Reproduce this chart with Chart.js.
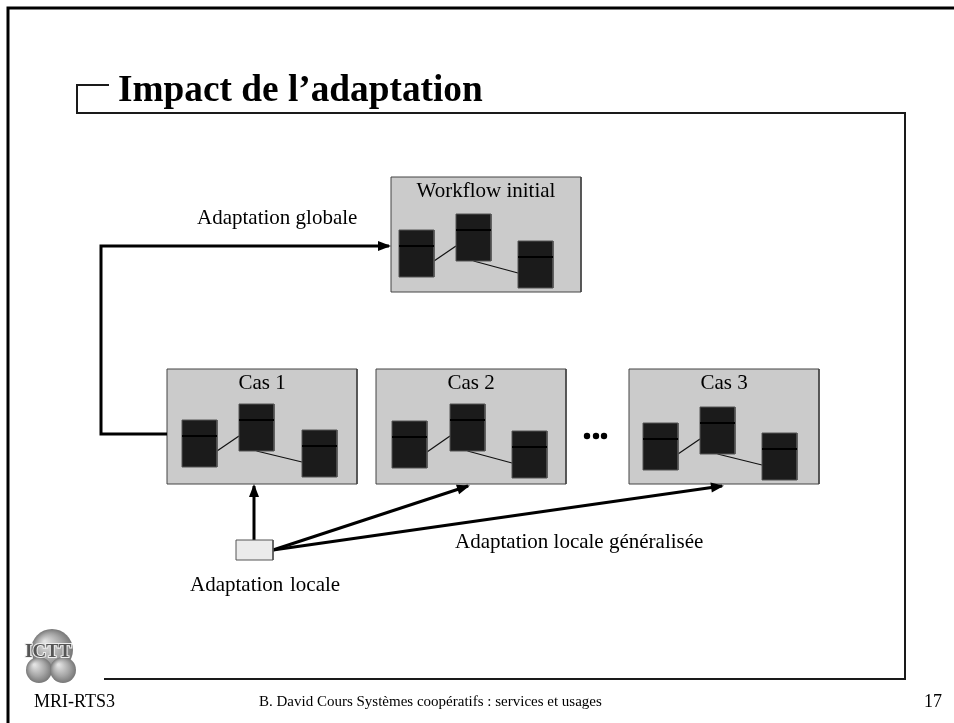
<!DOCTYPE html>
<html lang="fr">
<head>
<meta charset="UTF-8">
<title>Impact de l'adaptation</title>
<style>
  body { margin: 0; background: #fff; }
  canvas { display: block; }
</style>
<script src="https://cdn.jsdelivr.net/npm/chart.js"></script>
</head>
<body>
<canvas id="chart" width="954" height="723"></canvas>
<script>
// --- diagram data (page units, y grows downward) ---
const boxNames = ['Workflow initial', 'Cas 1', 'Cas 2', 'Cas 3'];
const boxLeft = [391, 167, 376, 629];
const boxTop = [177, 369, 369, 369];
const boxW = 190, boxH = 115;

// three tasks in each box, offsets from the box corner
const taskDX = [[8, 65, 127], [15, 72, 135], [16, 74, 136], [14, 71, 133]];
const taskDY = [[53, 37, 64], [51, 35, 61], [52, 35, 62], [54, 38, 64]];
const taskW = 35, taskH = 47;

// arrows
const globalPath = [[167, 434], [101, 434], [101, 246], [389, 246]];
const localBox = [236, 540, 37, 20];
const localArrows = [
  [[254, 540], [254, 486]],
  [[273, 550], [468, 486]],
  [[273, 550], [722, 486]]
];
const ellipsisX = [587, 596, 604];
const ellipsisY = 436;

// slide frame
const outerFrame = [[8, 723], [8, 8], [954, 8]];
const innerFrame = [[109, 85], [77, 85], [77, 113], [905, 113], [905, 679], [104, 679]];

const title = 'Impact de l\u2019adaptation';
const footer = ['MRI-RTS3', 'B. David Cours Syst\u00e8mes coop\u00e9ratifs : services et usages', '17'];
const notes = [
  { text: 'Adaptation globale', x: 197, y: 224 },
  { text: 'Adaptation locale g\u00e9n\u00e9ralis\u00e9e', x: 455, y: 548 },
  { text: 'Adaptation', x: 190, y: 591 },
  { text: 'locale', x: 290, y: 591 }
];

const pts = arr => arr.map(p => ({ x: p[0], y: p[1] }));
const rect = (l, t, w, h) => pts([[l, t], [l + w, t], [l + w, t + h], [l, t + h], [l, t]]);

let datasets = [];
function add(d) {
  datasets.push(Object.assign({ pointRadius: 0, showLine: true, fill: false, clip: false, borderWidth: 1 }, d));
}

add({ data: pts(outerFrame), borderColor: '#000', borderWidth: 3 });
add({ data: pts(innerFrame), borderColor: '#1a1a1a', borderWidth: 2 });

boxNames.forEach((name, b) => {
  add({ data: rect(boxLeft[b], boxTop[b], boxW, boxH), borderColor: '#444', backgroundColor: '#cbcbcb', fill: 'shape' });
  const tx = taskDX[b].map(d => boxLeft[b] + d);
  const ty = taskDY[b].map(d => boxTop[b] + d);
  // connectors between tasks
  add({ data: pts([[tx[0] + taskW, ty[0] + 31], [tx[1], ty[1] + 32]]), borderColor: '#111', borderWidth: 1.2 });
  add({ data: pts([[tx[1] + taskW / 2, ty[1] + taskH], [tx[2], ty[2] + 32]]), borderColor: '#111', borderWidth: 1.2 });
  for (let i = 0; i < 3; i++) {
    add({ data: rect(tx[i], ty[i], taskW, taskH), borderColor: '#555', backgroundColor: '#1b1b1b', fill: 'shape' });
    add({ data: pts([[tx[i], ty[i] + 16], [tx[i] + taskW, ty[i] + 16]]), borderColor: '#000', borderWidth: 2 });
  }
});

add({ data: pts(globalPath), borderColor: '#000', borderWidth: 3, arrow: true });
localArrows.forEach(a => add({ data: pts(a), borderColor: '#000', borderWidth: 3, arrow: true }));
add({ data: rect(localBox[0], localBox[1], localBox[2], localBox[3]), borderColor: '#555', backgroundColor: '#ebebeb', fill: 'shape' });
add({ data: ellipsisX.map(x => ({ x: x, y: ellipsisY })), showLine: false, pointRadius: 3.2, pointBackgroundColor: '#000', pointBorderWidth: 0 });

// first pushed is painted first
datasets.forEach((d, i) => { d.order = datasets.length - i; });

const arrowHeads = {
  id: 'arrowHeads',
  afterDatasetsDraw(chart) {
    const ctx = chart.ctx;
    chart.data.datasets.forEach((ds, i) => {
      if (!ds.arrow) return;
      const el = chart.getDatasetMeta(i).data;
      const a = el[el.length - 2], b = el[el.length - 1];
      const ang = Math.atan2(b.y - a.y, b.x - a.x);
      const len = 11, half = 5;
      ctx.save();
      ctx.translate(b.x, b.y);
      ctx.rotate(ang);
      ctx.beginPath();
      ctx.moveTo(2, 0);
      ctx.lineTo(-len, -half);
      ctx.lineTo(-len, half);
      ctx.closePath();
      ctx.fillStyle = '#000';
      ctx.fill();
      ctx.restore();
    });
  }
};

const slideText = {
  id: 'slideText',
  afterDatasetsDraw(chart) {
    const { ctx, scales: { x, y } } = chart;
    const px = v => x.getPixelForValue(v), py = v => y.getPixelForValue(v);
    ctx.save();
    ctx.fillStyle = '#000';
    ctx.textBaseline = 'alphabetic';

    ctx.font = 'bold 37.3px "Liberation Serif"';
    ctx.textAlign = 'left';
    ctx.fillText(title, px(118), py(101));

    ctx.font = '21px "Liberation Serif"';
    ctx.textAlign = 'center';
    boxNames.forEach((name, b) => {
      ctx.fillText(name, px(boxLeft[b] + boxW / 2), py(boxTop[b] + 20));
    });
    ctx.textAlign = 'left';
    notes.forEach(n => ctx.fillText(n.text, px(n.x), py(n.y)));

    ctx.font = '18px "Liberation Serif"';
    ctx.fillText(footer[0], px(34), py(707));
    ctx.fillText(footer[2], px(924), py(707));
    ctx.font = '15px "Liberation Serif"';
    ctx.fillText(footer[1], px(259), py(706));

    // ICTT logo
    const spheres = [[52, 650, 21], [39, 670, 13], [63, 670, 13]];
    spheres.forEach(s => {
      const cx = px(s[0]), cy = py(s[1]);
      const g = ctx.createRadialGradient(cx - s[2] * 0.35, cy - s[2] * 0.4, 1, cx, cy, s[2]);
      g.addColorStop(0, '#e2e2e2');
      g.addColorStop(0.6, '#a6a6a6');
      g.addColorStop(1, '#777');
      ctx.fillStyle = g;
      ctx.beginPath();
      ctx.arc(cx, cy, s[2], 0, Math.PI * 2);
      ctx.fill();
    });
    ctx.font = 'bold 19px "Liberation Serif"';
    ctx.textAlign = 'left';
    ctx.lineWidth = 2;
    ctx.strokeStyle = '#eee';
    ctx.strokeText('ICTT', px(25), py(657), 53);
    ctx.fillStyle = '#555';
    ctx.fillText('ICTT', px(25), py(657), 53);
    ctx.restore();
  }
};

new Chart(document.getElementById('chart').getContext('2d'), {
  type: 'scatter',
  data: { datasets: datasets },
  options: {
    responsive: false,
    animation: false,
    devicePixelRatio: 1,
    layout: { padding: 0, autoPadding: false },
    plugins: { legend: { display: false }, tooltip: { enabled: false } },
    scales: {
      x: { type: 'linear', min: 0, max: 954, display: false },
      y: { type: 'linear', min: 0, max: 723, reverse: true, display: false }
    }
  },
  plugins: [arrowHeads, slideText]
});
</script>
</body>
</html>
